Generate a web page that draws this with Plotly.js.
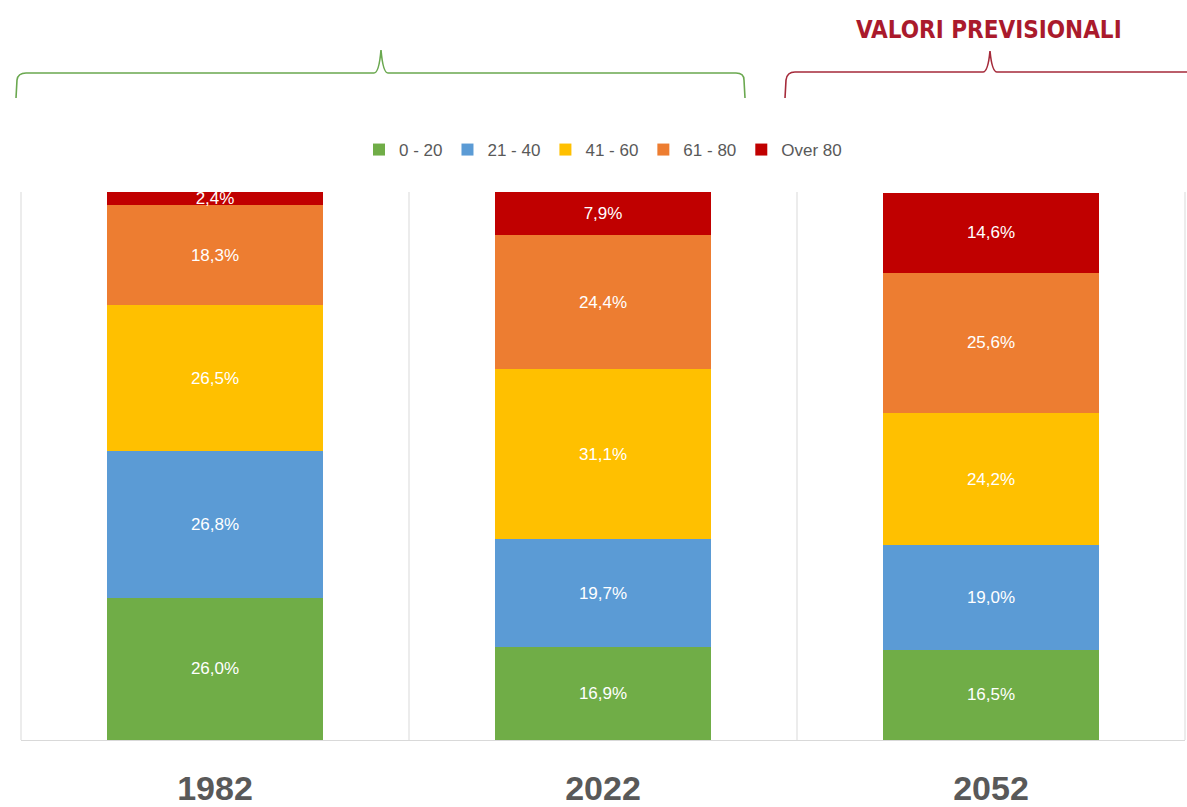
<!DOCTYPE html>
<html>
<head>
<meta charset="utf-8">
<script src="https://cdn.plot.ly/plotly-3.0.1.min.js"></script>
<style>html,body{margin:0;padding:0;background:#fff;}#chart{width:1187px;height:807px;}</style>
</head>
<body>
<div id="chart"></div>
<script>
// ---- data ----
var years = ['1982', '2022', '2052'];
var ageGroups = ['0 - 20', '21 - 40', '41 - 60', '61 - 80', 'Over 80'];
var age0_20 = [26.0, 16.9, 16.5];
var age21_40 = [26.8, 19.7, 19.0];
var age41_60 = [26.5, 31.1, 24.2];
var age61_80 = [18.3, 24.4, 25.6];
var ageOver80 = [2.4, 7.9, 14.6];
var forecastLabel = 'VALORI PREVISIONALI';

// ---- styling ----
var colors = ['#70ad47', '#5b9bd5', '#ffc000', '#ed7d31', '#c00000'];
var series = [age0_20, age21_40, age41_60, age61_80, ageOver80];
var W = 1187, H = 807;
var M = {l: 21, r: 2, t: 192, b: 67};
var plotW = W - M.l - M.r, plotH = H - M.t - M.b;
function px(x) { return (x - M.l) / plotW; }
function py(y) { return (H - M.b - y) / plotH; }
function P(x, y) { return px(x).toFixed(5) + ',' + py(y).toFixed(5); }

var traces = series.map(function (vals, i) {
  return {
    type: 'bar',
    name: ageGroups[i],
    x: years,
    y: vals,
    marker: {color: colors[i]},
    texttemplate: '%{y:.1f}%',
    textposition: 'inside',
    insidetextanchor: 'middle',
    constraintext: 'none',
    textangle: 0,
    insidetextfont: {color: '#ffffff', size: 17, family: 'Liberation Sans, Arial, sans-serif'},
    hoverinfo: 'skip'
  };
});

// braces (decoration)
var greenBrace = 'M' + P(16, 98) + ' L' + P(17, 80) + ' Q' + P(18, 73) + ' ' + P(26, 73) +
  ' L' + P(374, 73) + ' Q' + P(379, 73) + ' ' + P(381, 50) + ' Q' + P(383, 73) + ' ' + P(388, 73) +
  ' L' + P(736, 73) + ' Q' + P(744, 73) + ' ' + P(744, 80) + ' L' + P(745, 98);
var redBrace = 'M' + P(785, 98) + ' L' + P(786, 80) + ' Q' + P(787, 72) + ' ' + P(795, 72) +
  ' L' + P(983, 72) + ' Q' + P(988, 72) + ' ' + P(990, 51) + ' Q' + P(992, 72) + ' ' + P(997, 72) +
  ' L' + P(1187, 72);

var shapes = [];
[0, 1/3, 2/3, 1].forEach(function (xv) {
  shapes.push({type: 'line', xref: 'paper', yref: 'paper', x0: xv, x1: xv, y0: 0, y1: 1,
    line: {color: '#d9d9d9', width: 1}, layer: 'below'});
});
shapes.push({type: 'path', xref: 'paper', yref: 'paper', path: greenBrace,
  line: {color: '#6aa84f', width: 1.6}});
shapes.push({type: 'path', xref: 'paper', yref: 'paper', path: redBrace,
  line: {color: '#a52a3a', width: 1.6}});

var layout = {
  width: W, height: H,
  margin: M,
  paper_bgcolor: '#ffffff',
  plot_bgcolor: '#ffffff',
  barmode: 'stack',
  bargap: 0.443,
  separators: ',.',
  showlegend: true,
  legend: {
    orientation: 'h', x: 0.5, xanchor: 'center', y: py(150), yanchor: 'middle',
    font: {size: 17, color: '#595959', family: 'Liberation Sans, Arial, sans-serif'},
    itemwidth: 30, traceorder: 'normal', itemclick: false
  },
  xaxis: {
    type: 'category',
    showgrid: false, zeroline: false,
    showline: true, linecolor: '#d9d9d9', linewidth: 1,
    ticks: '',
    ticklabelstandoff: 18,
    tickfont: {size: 34, color: '#595959', family: 'Liberation Sans, Arial, sans-serif', weight: 'bold'},
    fixedrange: true
  },
  yaxis: {
    range: [0, 100],
    showgrid: false, zeroline: false, showline: false, showticklabels: false, ticks: '',
    fixedrange: true
  },
  shapes: shapes,
  annotations: [{
    xref: 'paper', yref: 'paper', x: px(989), y: py(30), xanchor: 'center', yanchor: 'middle',
    text: '<b>' + forecastLabel + '</b>', showarrow: false,
    font: {size: 24, color: '#aa1a2c', family: 'Liberation Sans Narrow, DejaVu Sans Condensed, Liberation Sans, sans-serif'}
  }]
};

Plotly.newPlot('chart', traces, layout, {displayModeBar: false, staticPlot: true});
</script>
</body>
</html>
